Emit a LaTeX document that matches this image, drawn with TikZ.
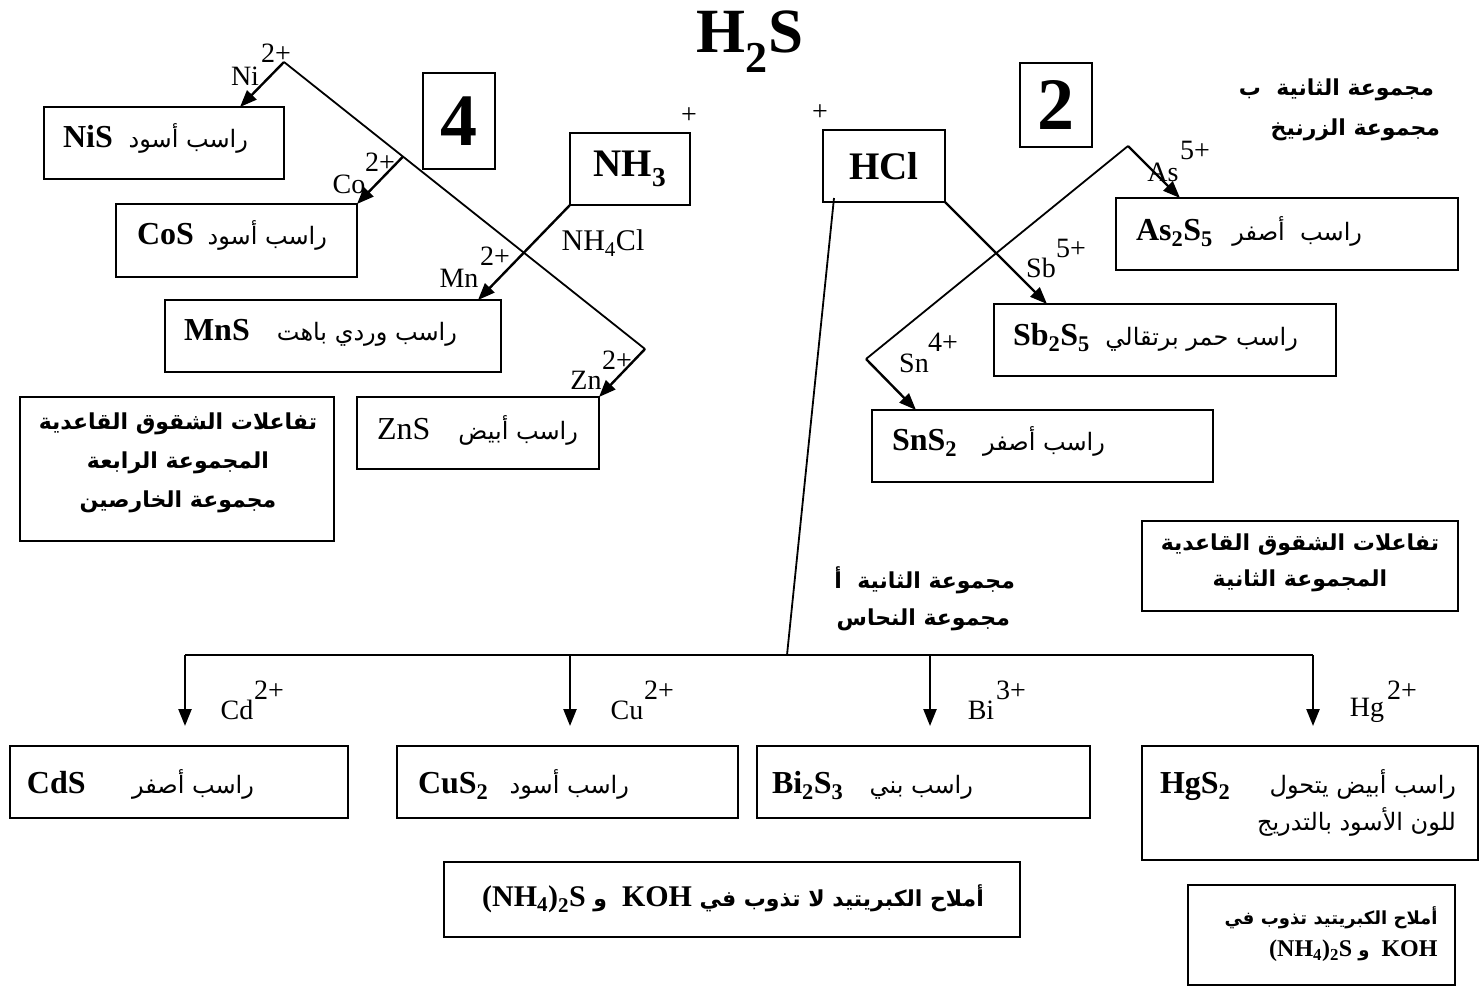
\documentclass[tikz,border=0pt]{standalone}
\usepackage{fontspec}
\setmainfont{Liberation Serif}
\newfontfamily\arabicfont[Script=Arabic]{DejaVu Sans}
\TeXXeTstate=1
\usetikzlibrary{arrows.meta,calc}
\newcommand\artx[1]{{\arabicfont\beginR #1\endR}}
\newcommand\arbx[1]{{\arabicfont\bfseries\beginR #1\endR}}
\begin{document}
\begin{tikzpicture}[x=1pt,y=-1pt,
  every node/.style={inner sep=0pt,outer sep=0pt},
  box/.style={draw,line width=1.8pt,inner sep=0pt},
  ln/.style={line width=1.8pt},
  arr/.style={line width=2.4pt,-{Triangle[length=17pt,width=13pt]}},
  lab/.style={font=\fontsize{28}{32}\selectfont},
  chem/.style={font=\bfseries\fontsize{32}{38}\selectfont,anchor=base west},
  chemr/.style={font=\fontsize{32}{38}\selectfont,anchor=base west},
  art/.style={font=\fontsize{24}{30}\selectfont,anchor=base east},
  head/.style={font=\bfseries\fontsize{22}{39}\selectfont,align=center},
  grp/.style={font=\bfseries\fontsize{22}{30}\selectfont,anchor=east},
  big/.style={font=\bfseries\fontsize{74}{80}\selectfont},
  reag/.style={font=\bfseries\fontsize{39}{44}\selectfont}]
\fill[white] (0,0) rectangle (1480,988);
\useasboundingbox (0,0) rectangle (1480,988);

% title
\node[font=\bfseries\fontsize{63}{70}\selectfont,anchor=base] (title) at (750,52) {H\textsubscript{2}S};

% ---------- group 4 ----------
\node[box,minimum width=240pt,minimum height=72pt] (nis) at (164,143) {};
\node[box,minimum width=241pt,minimum height=73pt] (cos) at (236.5,240.5) {};
\node[box,minimum width=336pt,minimum height=72pt] (mns) at (333,336) {};
\node[box,minimum width=242pt,minimum height=72pt] (zns) at (478,433) {};
\node[box,minimum width=314pt,minimum height=144pt] (lbox) at (177,469) {};
\node[box,big,minimum width=72pt,minimum height=96pt] (four) at (459,121) {4};
\node[box,reag,minimum width=120pt,minimum height=72pt] (nh3) at (630,169) {NH\textsubscript{3}};

\node[chem] (nisL) at (63,147) {NiS};
\node[art] (nisA) at (248,147) {\artx{راسب أسود}};
\node[chem] (cosL) at (137,244) {CoS};
\node[art] (cosA) at (327,244) {\artx{راسب أسود}};
\node[chem] (mnsL) at (184,340) {MnS};
\node[art] (mnsA) at (457,340) {\artx{راسب وردي باهت}};
\node[chemr] (znsL) at (377,439) {ZnS};
\node[art] (znsA) at (578,439) {\artx{راسب أبيض}};
\node[head] (lhead) at (178,463) {\arbx{تفاعلات الشقوق القاعدية}\\\arbx{المجموعة الرابعة}\\\arbx{مجموعة الخارصين}};

\coordinate (a1) at (284,62);
\coordinate (a2) at (645,349);
\coordinate (nisT) at ($(nis.north east)+(-44,0)$);
\coordinate (coP) at ($(a1)!0.3296!(a2)$);
\coordinate (mnT) at ($(mns.north west)+(313,0)$);
\draw[ln,line join=miter] (a1) -- (a2);
\draw[arr] (a1) -- (nisT);
\draw[arr] (coP) -- (cos.north east);
\draw[arr] (a2) -- (zns.north east);
\draw[arr] (nh3.south west) -- (mnT);

\node[lab] (niL) at (245,76) {Ni};
\node[lab] (niC) at (276,53) {2+};
\node[lab] (coL) at (349,184) {Co};
\node[lab] (coC) at (380,162) {2+};
\node[lab] (mnL) at (459,278) {Mn};
\node[lab] (mnC) at (495,256) {2+};
\node[lab] (znL) at (586,380) {Zn};
\node[lab] (znC) at (617,360) {2+};
\node[font=\fontsize{30}{34}\selectfont] (nh4cl) at (603,243) {NH\textsubscript{4}Cl};
\node[lab] (nhP) at (689,116) {+};

% ---------- group 2 ----------
\node[box,reag,minimum width=122pt,minimum height=72pt] (hcl) at (884,166) {HCl};
\node[lab] (hclP) at (820,113) {+};
\node[box,big,minimum width=72pt,minimum height=84pt] (two) at (1056,105) {2};
\node[box,minimum width=342pt,minimum height=72pt] (ass) at (1287,234) {};
\node[box,minimum width=342pt,minimum height=72pt] (sbs) at (1165,340) {};
\node[box,minimum width=341pt,minimum height=72pt] (sns) at (1042.5,446) {};
\node[box,minimum width=316pt,minimum height=90pt] (rbox) at (1300,566) {};

\node[chem] (assL) at (1136,240) {As\textsubscript{2}S\textsubscript{5}};
\node[art] (assA) at (1362,240) {\artx{راسب\ \ أصفر}};
\node[chem] (sbsL) at (1013,345) {Sb\textsubscript{2}S\textsubscript{5}};
\node[art] (sbsA) at (1298,345) {\artx{راسب حمر برتقالي}};
\node[chem] (snsL) at (892,450) {SnS\textsubscript{2}};
\node[art] (snsA) at (1105,450) {\artx{راسب أصفر}};

\node[grp] (gb1) at (1434,90) {\arbx{مجموعة الثانية\ \ ب}};
\node[grp] (gb2) at (1440,130) {\arbx{مجموعة الزرنيخ}};
\node[head,font=\bfseries\fontsize{22}{36}\selectfont] (rhead) at (1300,563) {\arbx{تفاعلات الشقوق القاعدية}\\\arbx{المجموعة الثانية}};
\node[grp] (ga1) at (1015,580) {\arbx{مجموعة الثانية\ \ أ}};
\node[grp] (ga2) at (1010,620) {\arbx{مجموعة النحاس}};

\coordinate (b1) at (1128,146);
\coordinate (b2) at (866,359);
\coordinate (asT) at ($(ass.north west)+(64,0)$);
\coordinate (snT) at ($(sns.north west)+(44,0)$);
\coordinate (sbT) at ($(sbs.north west)+(53,0)$);
\draw[ln,line join=miter] (b1) -- (b2);
\draw[arr] (b1) -- (asT);
\draw[arr] (b2) -- (snT);
\draw[arr] (hcl.south east) -- (sbT);

\node[lab] (asL) at (1163,172) {As};
\node[lab] (asC) at (1195,150) {5+};
\node[lab] (sbL) at (1041,268) {Sb};
\node[lab] (sbC) at (1071,248) {5+};
\node[lab] (snL) at (914,363) {Sn};
\node[lab] (snC) at (943,342) {4+};

% ---------- group 2a (copper) ----------
\coordinate (hclS) at ($(hcl.south west)+(11,-4)$);
\coordinate (barM) at (787,655);
\coordinate (bar1) at (185,655);
\coordinate (bar2) at (570,655);
\coordinate (bar3) at (930,655);
\coordinate (bar4) at (1313,655);
\coordinate (t1) at (185,726);
\coordinate (t2) at (570,726);
\coordinate (t3) at (930,726);
\coordinate (t4) at (1313,726);
\draw[ln] (hclS) -- (barM);
\draw[ln] (bar1) -- (bar4);
\draw[arr] (bar1) -- (t1);
\draw[arr] (bar2) -- (t2);
\draw[arr] (bar3) -- (t3);
\draw[arr] (bar4) -- (t4);

\node[lab] (cdL) at (237,710) {Cd};
\node[lab] (cdC) at (269,690) {2+};
\node[lab] (cuL) at (627,710) {Cu};
\node[lab] (cuC) at (659,690) {2+};
\node[lab] (biL) at (981,710) {Bi};
\node[lab] (biC) at (1011,690) {3+};
\node[lab] (hgL) at (1367,710) {Hg};
\node[lab] (hgC) at (1402,690) {2+};

\node[box,minimum width=338pt,minimum height=72pt] (cds) at (179,782) {};
\node[box,minimum width=341pt,minimum height=72pt] (cus) at (567.5,782) {};
\node[box,minimum width=333pt,minimum height=72pt] (bis) at (923.5,782) {};
\node[box,minimum width=336pt,minimum height=114pt] (hgs) at (1310,803) {};

\node[chem] (cdsL) at (27,793) {CdS};
\node[art] (cdsA) at (254,793) {\artx{راسب أصفر}};
\node[chem] (cusL) at (418,793) {CuS\textsubscript{2}};
\node[art] (cusA) at (629,793) {\artx{راسب أسود}};
\node[chem] (bisL) at (772,793) {Bi\textsubscript{2}S\textsubscript{3}};
\node[art] (bisA) at (973,793) {\artx{راسب بني}};
\node[chem] (hgsL) at (1160,793) {HgS\textsubscript{2}};
\node[art] (hgsA) at (1456,793) {\artx{راسب أبيض يتحول}};
\node[art] (hgsB) at (1456,830) {\artx{للون الأسود بالتدريج}};

\node[box,minimum width=576pt,minimum height=75pt] (mbox) at (732,899.5) {};
\node[font=\bfseries\fontsize{30}{36}\selectfont] (mtxt) at (733,899) {(NH\textsubscript{4})\textsubscript{2}S\ {\fontsize{22}{30}\selectfont\arbx{و}}\ \ KOH {\fontsize{22}{30}\selectfont\arbx{أملاح الكبريتيد لا تذوب في}}};

\node[box,minimum width=267pt,minimum height=100pt] (brbox) at (1321.5,935) {};
\node[font=\bfseries\fontsize{24}{32}\selectfont,align=right] (brtxt) at (1331,934) {{\fontsize{18}{32}\selectfont\arbx{أملاح الكبريتيد تذوب في}}\\(NH\textsubscript{4})\textsubscript{2}S\ {\fontsize{18}{32}\selectfont\arbx{و}}\ \ KOH};
\end{tikzpicture}
\end{document}
